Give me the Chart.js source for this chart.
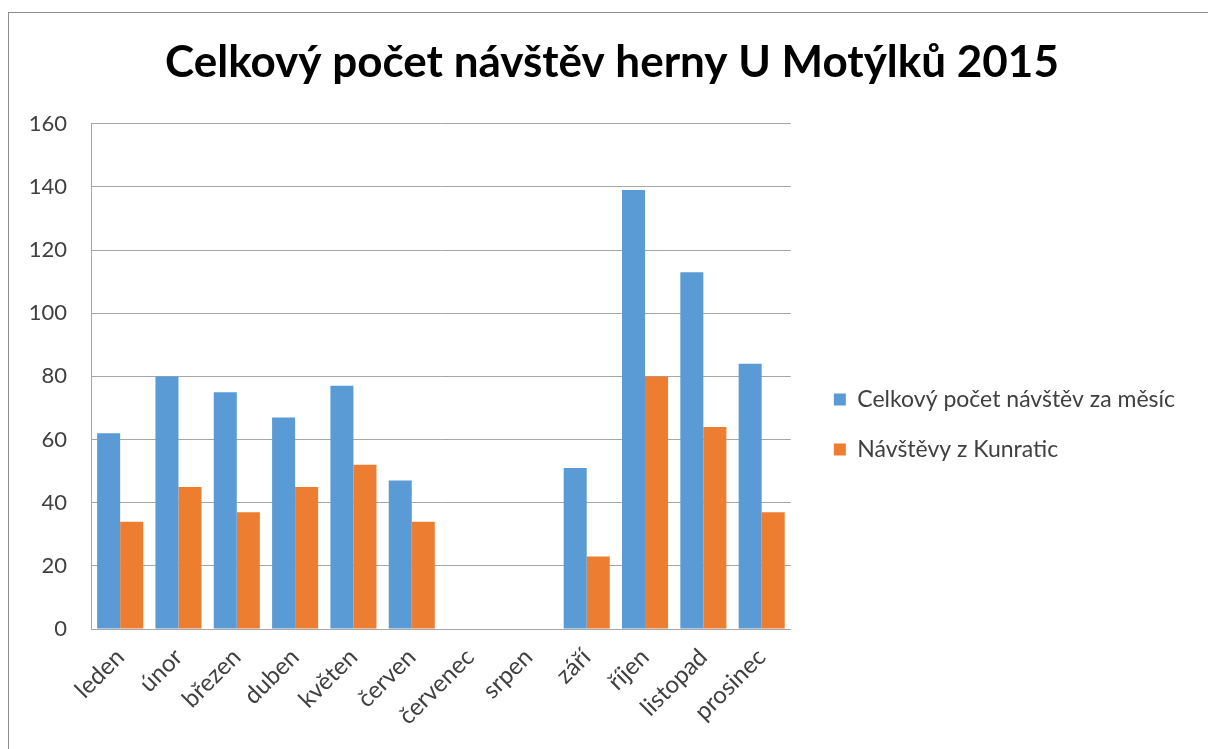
<!DOCTYPE html>
<html>
<head>
<meta charset="utf-8">
<script src="https://cdn.jsdelivr.net/npm/chart.js@4.4.1/dist/chart.umd.min.js"></script>
<style>
    html, body { margin: 0; padding: 0; background: #fff; }
    #frame {
        position: absolute; left: 8px; top: 12px; width: 1300px; height: 800px;
        border-left: 1px solid #8c8c8c; border-top: 1px solid #8c8c8c;
    }
    #wrap { position: absolute; left: 0; top: 0; width: 1208px; height: 749px; }
</style>
</head>
<body>
<div id="frame"></div>
<div id="wrap"><canvas id="chart" width="1208" height="749"></canvas></div>
<script>
// Data
const months = ['leden', 'únor', 'březen', 'duben', 'květen', 'červen',
    'červenec', 'srpen', 'září', 'říjen', 'listopad', 'prosinec'];
const totalVisits = [62, 80, 75, 67, 77, 47, null, null, 51, 139, 113, 84];
const kunraticVisits = [34, 45, 37, 45, 52, 34, null, null, 23, 80, 64, 37];
const yTicks = [0, 20, 40, 60, 80, 100, 120, 140, 160];

const FONT = 'Lato';

// empty right-hand axes only used as spacers around the legend
const spacer = (w, weight) => ({
    type: 'linear',
    position: 'right',
    weight: weight,
    grid: { display: false },
    border: { display: false },
    ticks: { display: false },
    afterFit: function (scale) { scale.width = w; }
});

const ctx = document.getElementById('chart').getContext('2d');

new Chart(ctx, {
    type: 'bar',
    data: {
        labels: months,
        datasets: [{
            label: 'Celkový počet návštěv za měsíc',
            data: totalVisits,
            backgroundColor: '#5b9bd5',
            yAxisID: 'y'
        },
        {
            label: 'Návštěvy z Kunratic',
            data: kunraticVisits,
            backgroundColor: '#ed7d31',
            yAxisID: 'y'
        }]
    },
    options: {
        responsive: false,
        animation: false,
        datasets: {
            bar: { categoryPercentage: 0.79, barPercentage: 1.0 }
        },
        layout: {
            padding: { left: 16, right: 0, top: 0, bottom: 8 }
        },
        plugins: {
            title: {
                display: true,
                text: 'Celkový počet návštěv herny U Motýlků 2015',
                color: '#000',
                font: { family: FONT, size: 44, weight: 'bold' },
                padding: { top: 36, bottom: 35 }
            },
            legend: {
                position: 'right',
                maxWidth: 420,
                title: {
                    display: true,
                    text: '',
                    padding: 0,
                    font: { size: 10, lineHeight: 10.8 }
                },
                labels: {
                    boxWidth: 12,
                    boxHeight: 12,
                    padding: 27,
                    color: '#404040',
                    font: { family: FONT, size: 23 }
                }
            },
            tooltip: { enabled: false }
        },
        scales: {
            x: {
                grid: { display: false },
                border: { color: '#a6a6a6' },
                ticks: {
                    color: '#404040',
                    maxRotation: 45,
                    minRotation: 45,
                    padding: 6,
                    font: { family: FONT, size: 24 }
                },
                afterFit: function (scale) { scale.height = 112; }
            },
            y: {
                min: 0,
                max: 160,
                afterBuildTicks: function (scale) {
                    scale.ticks = yTicks.map(v => ({ value: v }));
                },
                grid: { color: '#a6a6a6', drawTicks: false },
                border: { color: '#a6a6a6' },
                ticks: {
                    color: '#404040',
                    padding: 24,
                    font: { family: FONT, size: 22 }
                },
                afterFit: function (scale) { scale.width = 75; }
            },
            gapInner: spacer(16, 0),
            gapOuter: spacer(23, 2000)
        }
    }
});
</script>
</body>
</html>
